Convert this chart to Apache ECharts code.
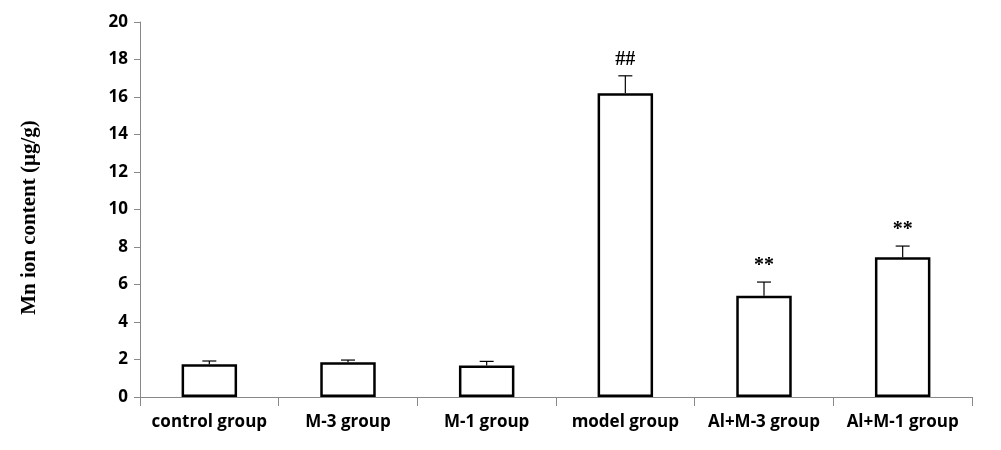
<!DOCTYPE html>
<html><head><meta charset="utf-8">
<script src="https://cdn.jsdelivr.net/npm/echarts@6/dist/echarts.min.js"></script>
<style>html,body{margin:0;padding:0;background:#fff}#c{width:1001px;height:450px}</style>
</head><body><div id="c"></div>
<script>
const categories = ['control group','M-3 group','M-1 group','model group','Al+M-3 group','Al+M-1 group'];
const means = [1.75, 1.85, 1.68, 16.2, 5.4, 7.45];
const errors = [0.17, 0.12, 0.22, 0.93, 0.73, 0.6];
const marks = ['', '', '', '##', '**', '**'];
const yTicks = [0, 2, 4, 6, 8, 10, 12, 14, 16, 18, 20];

const chart = echarts.init(document.getElementById('c'));
chart.setOption({
  backgroundColor: '#fff',
  animation: false,
  grid: {left: 140, right: 29, top: 22, bottom: 53},
  xAxis: {
    type: 'category', data: categories,
    axisLine: {lineStyle: {color: '#888', width: 1}},
    axisTick: {show: true, length: 9, lineStyle: {color: '#888'}},
    axisLabel: {interval: 0, color: '#000', fontFamily: 'Open Sans', fontWeight: 'bold', fontSize: 17, margin: 17}
  },
  yAxis: {
    type: 'value', min: yTicks[0], max: yTicks[yTicks.length-1], interval: 2,
    name: 'Mn ion content (μg/g)', nameLocation: 'middle', nameGap: 100,
    nameTextStyle: {fontFamily: 'Liberation Serif', fontWeight: 'bold', fontSize: 21, color: '#000', padding: [0, 16, 0, 0]},
    axisLine: {show: true, lineStyle: {color: '#888'}},
    axisTick: {show: true, length: 6, lineStyle: {color: '#888'}},
    splitLine: {show: false},
    axisLabel: {color: '#000', fontFamily: 'Open Sans', fontWeight: 'bold', fontSize: 17, margin: 12}
  },
  series: [
    {
      type: 'bar', data: means, barWidth: '40%',
      itemStyle: {color: '#fff', borderColor: '#000', borderWidth: 2.5}
    },
    {
      type: 'custom',
      data: means.map((m, i) => [i, m, errors[i]]),
      renderItem: function (params, api) {
        const i = api.value(0), m = api.value(1), e = api.value(2);
        const base = api.coord([i, m]);
        const top = api.coord([i, m + e]);
        const w = 7;
        const children = [
          {type: 'line', shape: {x1: base[0], y1: base[1], x2: top[0], y2: top[1]}, style: {stroke: '#000', lineWidth: 1.2}},
          {type: 'line', shape: {x1: top[0]-w, y1: top[1], x2: top[0]+w, y2: top[1]}, style: {stroke: '#000', lineWidth: 1.2}}
        ];
        const t = marks[i];
        if (t) {
          children.push({type: 'text', style: {text: t, x: top[0], y: top[1] - 6, align: 'center', verticalAlign: 'bottom',
            font: 'bold 20px "Liberation Serif"', fill: '#000'}});
        }
        return {type: 'group', children: children};
      },
      z: 5
    }
  ]
});
</script></body></html>
